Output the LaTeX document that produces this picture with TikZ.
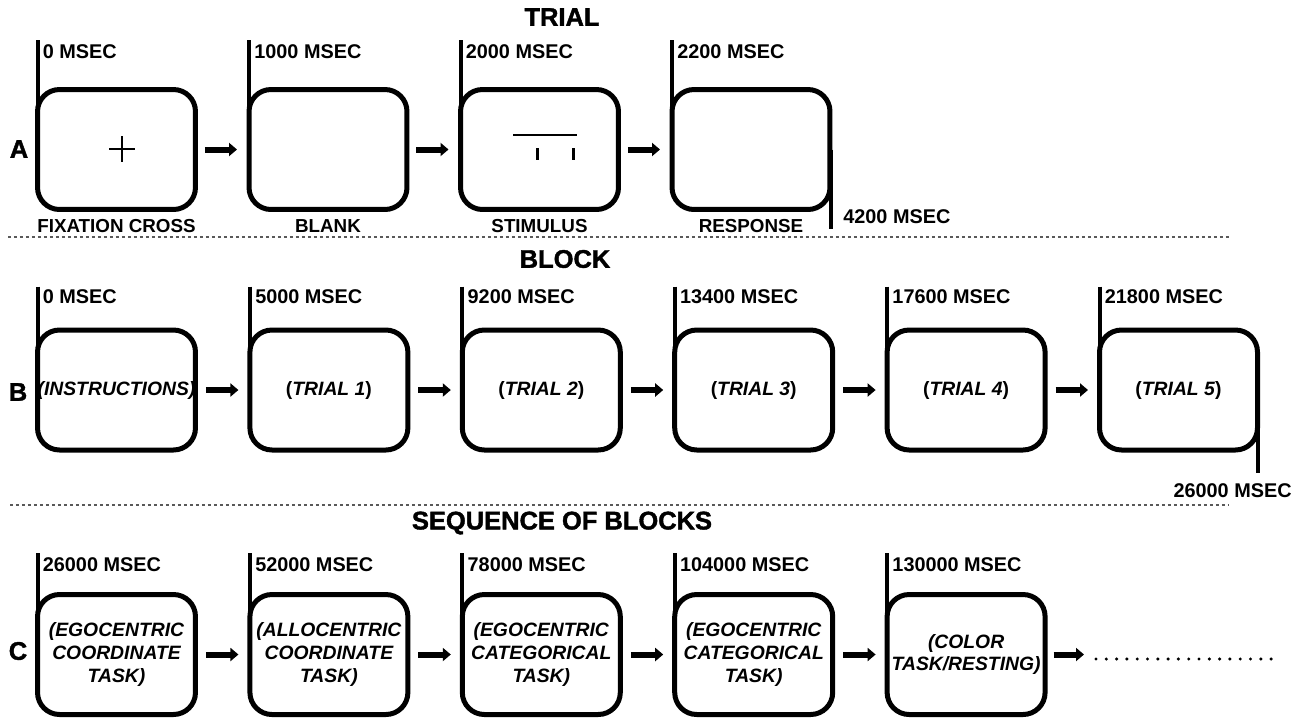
\documentclass[tikz,border=0pt]{standalone}
\usepackage{fontspec}
\setmainfont{Liberation Sans}
\newfontfamily\headfont{Liberation Sans}[BoldFeatures={FakeBold=1.6}]
\usetikzlibrary{arrows.meta,positioning}

\tikzset{
  screen/.style={draw, line width=0.1cm, rounded corners=0.44cm,
    minimum width=3.16cm, minimum height=2.4cm, inner sep=0pt,
    align=center, font=\fontsize{11}{12.5}\selectfont\bfseries},
  tasktext/.style={font=\fontsize{11}{13}\selectfont\bfseries\itshape},
  timetick/.style={line width=0.08cm},
  msec/.style={inner sep=0pt, font=\fontsize{11.3}{13}\selectfont\bfseries},
  screencap/.style={inner sep=0pt, font=\fontsize{10.7}{13}\selectfont\bfseries},
  heading/.style={inner sep=0pt, font=\fontsize{14.5}{17}\selectfont\headfont\bfseries},
  rowlabel/.style={inner sep=0pt, font=\fontsize{14.5}{17}\selectfont\headfont\bfseries},
  flow/.style={line width=0.12cm, -{Triangle[length=0.16cm, width=0.26cm]}},
  divider/.style={draw=black!65, line width=0.025cm, dash pattern=on 0.07cm off 0.05cm}
}

\begin{document}
\begin{tikzpicture}[x=0.02cm, y=-0.02cm]
  \useasboundingbox (0,0) rectangle (1304,718);

  % Parameters (pixels of the 1304 x 718 frame)
  \def\pitchA{211.5} % distance between screens of a trial
  \def\pitchB{212.4} % distance between screens of a block / sequence

  % Headings
  \node[heading] (trial) at (562,17) {TRIAL};
  \node[heading] (block) at (565,259) {BLOCK};
  \node[heading] (sequence) at (562,523) {SEQUENCE OF BLOCKS};

  % Separators
  \draw[divider] (8,237) -- (1230,237);
  \draw[divider] (10,505) -- (1228,505);

  % ---- A: one trial ----
  \node[rowlabel] (rowA) at (19,149) {A};
  \foreach \i/\ms/\lbl in {1/0/FIXATION CROSS, 2/1000/BLANK, 3/2000/STIMULUS, 4/2200/RESPONSE} {
      \node[screen] (a\i) at ({116.5+(\i-1)*\pitchA},149.5) {};
      \node[screencap] (capa\i) at ([yshift=-0.28cm]a\i.south) {\lbl};
      \coordinate (ta\i) at ([xshift=0.05cm, yshift=0.94cm]a\i.north west);
      \draw[timetick] (ta\i) -- ([xshift=0.05cm]a\i.west);
      \node[msec, anchor=west] (msa\i) at ([xshift=0.1cm, yshift=-0.24cm]ta\i) {\ms\ MSEC};
  }

  % fixation cross and stimulus
  \draw[line width=0.045cm] ([shift={(5.5,-0.5)}]a1.center) +(-13,0) -- +(13,0) +(0,-13) -- +(0,13);
  \draw[line width=0.05cm] ([shift={(-26.5,-14.5)}]a3.center) -- ++(64,0);
  \draw[line width=0.06cm] ([shift={(-2.5,-1.5)}]a3.center) -- ++(0,12)
                           ([shift={(33.5,-1.5)}]a3.center) -- ++(0,12);

  % end of the trial
  \draw[timetick] ([xshift=-0.03cm]a4.east) -- ([xshift=-0.03cm, yshift=-0.34cm]a4.south east);
  \node[msec, anchor=west] (enda) at ([xshift=0.21cm, yshift=-0.1cm]a4.south east) {4200 MSEC};

  \foreach \i [evaluate=\i as \j using int(\i+1)] in {1,2,3}
      \draw[flow] ([xshift=0.14cm]a\i.east) -- ([xshift=-0.19cm]a\j.west);

  % ---- B: one block ----
  \node[rowlabel] (rowB) at (18,392) {B};
  \foreach \i/\ms/\lbl in {1/0/\textit{(INSTRUCTIONS)}, 2/5000/(\textit{TRIAL 1}),
                           3/9200/(\textit{TRIAL 2}), 4/13400/(\textit{TRIAL 3}),
                           5/17600/(\textit{TRIAL 4}), 6/21800/(\textit{TRIAL 5})} {
      \node[screen] (b\i) at ({116.5+(\i-1)*\pitchB},390) {\lbl};
      \coordinate (tb\i) at ([xshift=0.05cm, yshift=0.82cm]b\i.north west);
      \draw[timetick] (tb\i) -- ([xshift=0.05cm]b\i.west);
      \node[msec, anchor=west] (msb\i) at ([xshift=0.1cm, yshift=-0.2cm]tb\i) {\ms\ MSEC};
  }

  % end of the block
  \draw[timetick] ([xshift=-0.05cm]b6.east) -- ([xshift=-0.05cm, yshift=-0.42cm]b6.south east);
  \node[msec, anchor=east] (endb) at ([xshift=0.64cm, yshift=-0.76cm]b6.south east) {26000 MSEC};

  \foreach \i [evaluate=\i as \j using int(\i+1)] in {1,...,5}
      \draw[flow] ([xshift=0.16cm]b\i.east) -- ([xshift=-0.18cm]b\j.west);

  % ---- C: sequence of blocks ----
  \node[rowlabel] (rowC) at (18,651) {C};
  \foreach \i/\ms/\lbl in {1/26000/(EGOCENTRIC\\COORDINATE\\TASK),
                           2/52000/(ALLOCENTRIC\\COORDINATE\\TASK),
                           3/78000/(EGOCENTRIC\\CATEGORICAL\\TASK),
                           4/104000/(EGOCENTRIC\\CATEGORICAL\\TASK),
                           5/130000/(COLOR\\TASK\slash RESTING)} {
      \node[screen, tasktext] (c\i) at ({116.5+(\i-1)*\pitchB},654.5) {\lbl};
      \coordinate (tc\i) at ([xshift=0.05cm, yshift=0.78cm]c\i.north west);
      \draw[timetick] (tc\i) -- ([xshift=0.05cm]c\i.west);
      \node[msec, anchor=west] (msc\i) at ([xshift=0.1cm, yshift=-0.24cm]tc\i) {\ms\ MSEC};
  }

  \foreach \i [evaluate=\i as \j using int(\i+1)] in {1,...,4}
      \draw[flow] ([xshift=0.16cm]c\i.east) -- ([xshift=-0.18cm]c\j.west);

  % more blocks follow
  \coordinate (more) at (1084,654.5);
  \draw[flow] ([xshift=0.12cm]c5.east) -- (more);
  \foreach \k in {0,...,17}
      \fill ({1096+\k*10.3},659) circle (0.034cm);
\end{tikzpicture}
\end{document}
